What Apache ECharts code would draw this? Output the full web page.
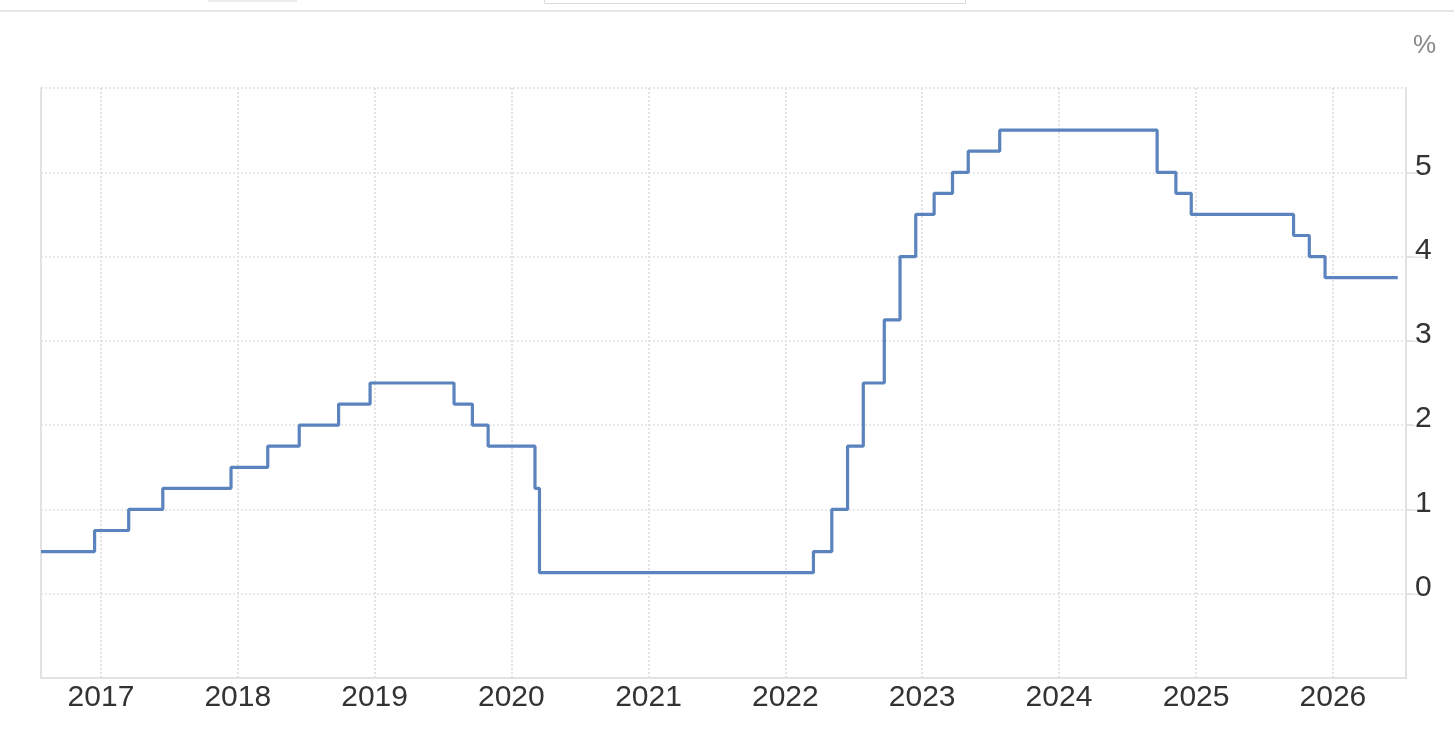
<!DOCTYPE html>
<html>
<head>
<meta charset="utf-8">
<script src="https://cdn.jsdelivr.net/npm/echarts@6/dist/echarts.min.js"></script>
<style>
html,body{margin:0;padding:0;background:#fff;}
#chart{width:1454px;height:736px;}
</style>
</head>
<body>
<div id="chart"></div>
<script>
// Rate change dates and the value in force from that date
var dates = ['2016-07-25','2016-12-15','2017-03-16','2017-06-15','2017-12-14','2018-03-22','2018-06-14','2018-09-27','2018-12-20','2019-08-01','2019-09-19','2019-10-31','2020-03-04','2020-03-16','2022-03-17','2022-05-05','2022-06-16','2022-07-28','2022-09-22','2022-11-03','2022-12-15','2023-02-02','2023-03-23','2023-05-04','2023-07-27','2024-09-19','2024-11-08','2024-12-19','2025-09-18','2025-10-30','2025-12-11','2026-06-23'];
var rates = [0.5,0.75,1.0,1.25,1.5,1.75,2.0,2.25,2.5,2.25,2.0,1.75,1.25,0.25,0.5,1.0,1.75,2.5,3.25,4.0,4.5,4.75,5.0,5.25,5.5,5.0,4.75,4.5,4.25,4.0,3.75,3.75];
var yearTicks = ['2017-01-01','2018-01-01','2019-01-01','2020-01-01','2021-01-01','2022-01-01','2023-01-01','2024-01-01','2025-01-01','2026-01-01'];
var xMin = '2016-07-25';
var xMax = '2026-07-15';
var yMin = -1, yMax = 6, yStep = 1;
var unitLabel = '%';

function ts(s){ return new Date(s + 'T00:00:00Z').getTime(); }
var seriesData = dates.map(function(d,i){ return [ts(d), rates[i]]; });
var tickVals = yearTicks.map(ts);

var chart = echarts.init(document.getElementById('chart'));
var gridColor = '#e2e2e2';
chart.setOption({
  animation: false,
  backgroundColor: '#fff',
  textStyle: {fontFamily: 'Liberation Sans, Arial, sans-serif'},
  graphic: [
    {type:'rect', shape:{x:0,y:10,width:1454,height:2}, style:{fill:'#e6e6ea'}, silent:true},
    {type:'rect', shape:{x:208,y:-2,width:89,height:4}, style:{fill:'#ececec'}, silent:true},
    {type:'rect', shape:{x:544.5,y:-3,width:421,height:6.5}, style:{fill:'#fff', stroke:'#dcdcd4', lineWidth:1}, silent:true},
    {type:'text', right: 18, top: 33, style:{text: unitLabel, fontSize: 26, fill:'#888', fontFamily:'Liberation Sans, Arial, sans-serif'}}
  ],
  grid: {left: 41, right: 48, top: 88, bottom: 58, containLabel: false},
  xAxis: {
    type: 'value',
    min: ts(xMin),
    max: ts(xMax),
    axisLine: {show: true, onZero: false, lineStyle: {color: gridColor, width: 2}},
    axisTick: {show: false, customValues: tickVals},
    axisLabel: {
      customValues: tickVals,
      formatter: function(v){ return new Date(v).getUTCFullYear() + ''; },
      fontSize: 30, color: '#333', margin: 5,
      fontFamily: 'Liberation Sans, Arial, sans-serif'
    },
    splitLine: {show: true, lineStyle: {color: gridColor, width: 2, type: [2,2]}}
  },
  yAxis: [{
    type: 'value',
    position: 'right',
    min: yMin, max: yMax, interval: yStep,
    axisLine: {show: true, onZero: false, lineStyle: {color: gridColor, width: 2}},
    axisTick: {show: true, length: 19, lineStyle: {color: '#dcdcdc', width: 1.5}},
    axisLabel: {
      showMinLabel: false, showMaxLabel: false,
      fontSize: 30, color: '#333', margin: 7,
      verticalAlign: 'bottom', lineHeight: 10,
      backgroundColor: '#fff', padding: [0, 2, 1, 2],
      fontFamily: 'Liberation Sans, Arial, sans-serif'
    },
    splitLine: {show: true, lineStyle: {color: gridColor, width: 1.5, type: [2,2]}}
  },{
    type: 'value',
    position: 'left',
    min: yMin, max: yMax, interval: yStep,
    axisLine: {show: true, onZero: false, lineStyle: {color: gridColor, width: 2}},
    axisTick: {show: false},
    axisLabel: {show: false},
    splitLine: {show: false}
  }],
  series: [{
    type: 'line',
    step: 'end',
    data: seriesData,
    showSymbol: false,
    symbol: 'none',
    lineStyle: {color: '#5b83be', width: 3.2},
    z: 5
  }]
});
</script>
</body>
</html>
